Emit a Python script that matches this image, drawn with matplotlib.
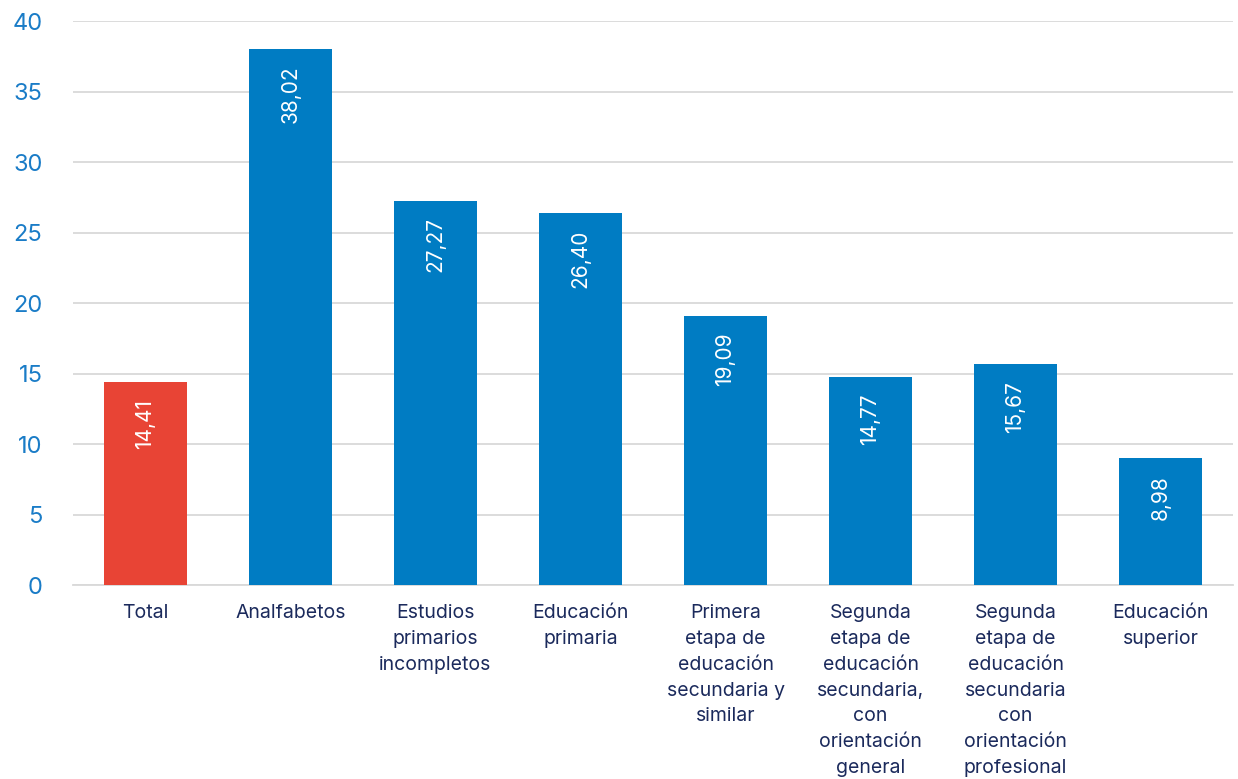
import matplotlib
matplotlib.use("Agg")
import matplotlib.pyplot as plt

categories = [
    "Total",
    "Analfabetos",
    "Estudios\nprimarios\nincompletos",
    "Educación\nprimaria",
    "Primera\netapa de\neducación\nsecundaria y\nsimilar",
    "Segunda\netapa de\neducación\nsecundaria,\ncon\norientación\ngeneral",
    "Segunda\netapa de\neducación\nsecundaria\ncon\norientación\nprofesional",
    "Educación\nsuperior",
]
values = [14.41, 38.02, 27.27, 26.40, 19.09, 14.77, 15.67, 8.98]
value_labels = ["14,41", "38,02", "27,27", "26,40", "19,09", "14,77", "15,67", "8,98"]
yticks = [0, 5, 10, 15, 20, 25, 30, 35, 40]

plt.rcParams['font.family'] = ['Inter', 'DejaVu Sans']

fig = plt.figure(figsize=(12.38, 7.79), dpi=100)
ax = fig.add_axes([0.059, 0.249, 0.937, 0.724])

colors = ["#e84435"] + ["#007cc3"] * (len(values) - 1)
x = list(range(len(values)))
bars = ax.bar(x, values, width=0.572, color=colors, zorder=3)

for xi, v, lab in zip(x, values, value_labels):
    ax.annotate(lab, xy=(xi, v), xytext=(0, -12), textcoords="offset points",
                rotation=90, ha="center", va="top", color="white", fontsize=15,
                zorder=4)

ax.set_xlim(-0.5, len(values) - 0.5)
ax.set_ylim(0, 40)
ax.set_yticks(yticks)
ax.set_yticklabels([str(t) for t in yticks], color="#1a7cc7", fontsize=17)
ax.yaxis.grid(True, color="#d9d9d9", linewidth=1.3, zorder=0)
ax.set_axisbelow(True)
ax.set_xticks(x)
ax.set_xticklabels(categories, color="#1b2a5c", fontsize=14, linespacing=1.55, va="top")
ax.tick_params(axis="both", length=0)
ax.tick_params(axis="x", pad=14)
ax.tick_params(axis="y", pad=22)
for s in ["top", "right", "left"]:
    ax.spines[s].set_visible(False)
ax.spines["bottom"].set_color("#d9d9d9")
ax.spines["bottom"].set_linewidth(1.3)

fig.savefig("out.png", dpi=100)
